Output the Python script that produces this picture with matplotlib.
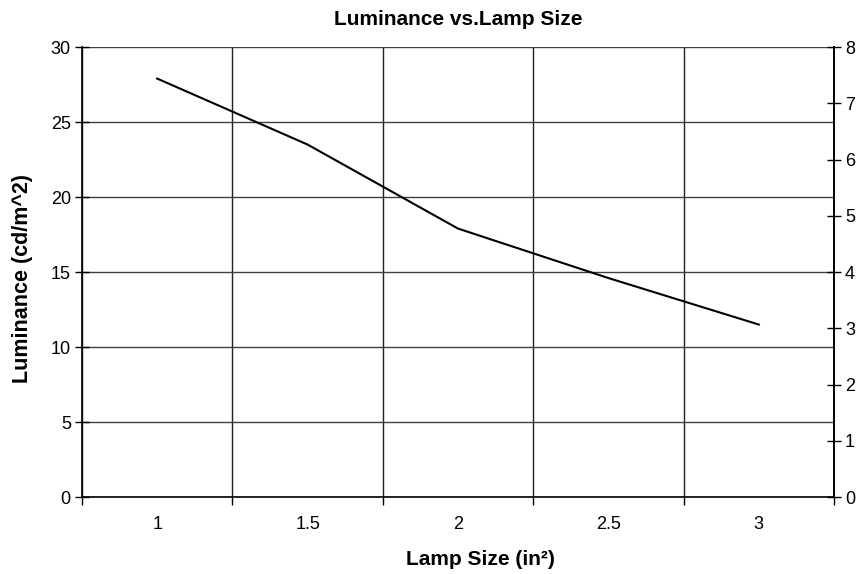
import numpy as np
import matplotlib
matplotlib.use("Agg")
import matplotlib.pyplot as plt

plt.rcParams['font.family'] = ['Liberation Sans', 'DejaVu Sans']

lamp_size = ['1', '1.5', '2', '2.5', '3']
luminance = [27.9, 23.5, 17.9, 14.6, 11.5]

fig = plt.figure(figsize=(8.61, 5.74), dpi=100)
ax = fig.add_axes([0.0952, 0.1341, 0.8734, 0.7839])

x = np.arange(len(lamp_size))
ax.plot(x, luminance, color='black', lw=1.5, zorder=3)

ax.set_xlim(-0.5, len(lamp_size) - 0.5)
ax.set_ylim(0, 30)
ax.set_yticks(np.arange(0, 31, 5))
ax.set_xticks(x)
ax.set_xticklabels(lamp_size, fontsize=13)
ax.tick_params(axis='x', length=0, pad=14)
ax.set_xticks(np.arange(-0.5, len(lamp_size)), minor=True)
ax.tick_params(axis='x', which='minor', direction='out', length=6, width=1)
ax.tick_params(axis='y', direction='inout', length=10, width=1, labelsize=13, pad=3)

ax.grid(axis='y', which='major', color='#404040', lw=1)
ax.grid(axis='x', which='minor', color='#202020', lw=1)
for s in ax.spines.values():
    s.set_linewidth(1.2)
ax.spines['top'].set_visible(False)

ax2 = ax.twinx()
ax2.set_ylim(0, 8)
ax2.set_yticks(np.arange(0, 9, 1))
ax2.tick_params(axis='y', direction='inout', length=10, width=1, labelsize=13, pad=3)
for s in ax2.spines.values():
    s.set_visible(False)
ax2.spines['right'].set_visible(True)
ax2.spines['right'].set_linewidth(1.2)

ax.set_title('Luminance vs.Lamp Size', fontsize=15, fontweight='bold', pad=16)
ax.set_xlabel('Lamp Size (in²)', fontsize=15, fontweight='bold', labelpad=12)
ax.xaxis.label.set_x(0.53)
ax.set_ylabel('Luminance (cd/m^2)', fontsize=15.5, fontweight='bold', labelpad=13)
ax.yaxis.label.set_y(0.485)

fig.savefig('out.png', dpi=100)
